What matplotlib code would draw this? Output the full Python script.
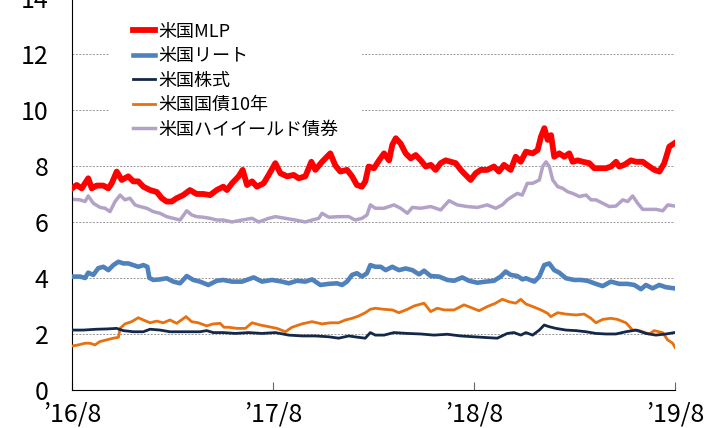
import matplotlib
matplotlib.use('Agg')
from matplotlib import pyplot as plt

plt.rcParams['font.family'] = ['Noto Sans CJK JP', 'DejaVu Sans']

# x = months since 2016/8
mlp_x = [0.00, 0.28, 0.58, 0.97, 1.18, 1.47, 1.87, 2.17, 2.37, 2.67, 2.97, 3.36, 3.66, 3.96,
         4.26, 4.66, 5.06, 5.36, 5.65, 5.95, 6.25, 6.64, 7.04, 7.44, 7.84, 8.24, 8.64, 9.03,
         9.25, 9.55, 9.95, 10.19, 10.45, 10.75, 11.04, 11.44, 11.74, 12.14, 12.44, 12.84,
         13.24, 13.53, 13.93, 14.29, 14.53, 14.93, 15.22, 15.42, 15.72, 16.02, 16.42, 16.72,
         17.01, 17.31, 17.51, 17.71, 18.03, 18.33, 18.63, 18.93, 19.12, 19.33, 19.62, 19.92,
         20.22, 20.52, 20.82, 21.12, 21.42, 21.71, 22.01, 22.31, 22.61, 22.91, 23.21, 23.50,
         23.80, 24.10, 24.40, 24.79, 25.19, 25.49, 25.79, 26.19, 26.49, 26.79, 27.10, 27.50,
         27.80, 28.00, 28.20, 28.40, 28.60, 28.79, 29.09, 29.39, 29.69, 29.89, 30.19, 30.49,
         30.88, 31.18, 31.48, 31.88, 32.18, 32.48, 32.67, 32.97, 33.37, 33.67, 34.07, 34.47,
         34.77, 35.07, 35.36, 35.66, 35.96]
mlp_y = [7.20, 7.32, 7.20, 7.56, 7.20, 7.30, 7.30, 7.20, 7.38, 7.80, 7.50, 7.63, 7.45, 7.45,
         7.26, 7.14, 7.07, 6.85, 6.73, 6.73, 6.85, 6.96, 7.14, 7.00, 7.00, 6.96, 7.14, 7.26,
         7.14, 7.38, 7.63, 7.86, 7.32, 7.45, 7.26, 7.38, 7.68, 8.10, 7.74, 7.63,
         7.68, 7.56, 7.63, 8.15, 7.86, 8.15, 8.33, 8.45, 8.02, 7.80, 7.86, 7.63,
         7.32, 7.26, 7.45, 7.98, 7.92, 8.20, 8.45, 8.20, 8.75, 8.99, 8.80, 8.45,
         8.27, 8.39, 8.20, 7.98, 8.04, 7.86, 8.10, 8.20, 8.15, 8.10, 7.86, 7.68,
         7.50, 7.74, 7.86, 7.86, 7.98, 7.80, 8.04, 7.86, 8.33, 8.15, 8.51, 8.45,
         8.57, 9.05, 9.35, 8.93, 9.10, 8.33, 8.45, 8.33, 8.45, 8.15, 8.20, 8.15,
         8.10, 7.92, 7.92, 7.92, 7.98, 8.15, 7.98, 8.04, 8.20, 8.15, 8.15, 7.98,
         7.86, 7.80, 8.10, 8.69, 8.81]

reit_x = [0.00, 0.48, 0.78, 0.97, 1.27, 1.57, 1.87, 2.17, 2.47, 2.77, 3.06, 3.36, 3.66, 3.96,
          4.26, 4.50, 4.62, 4.86, 5.25, 5.65, 6.05, 6.45, 6.85, 7.24, 7.64, 8.14, 8.64, 9.03,
          9.55, 10.15, 10.85, 11.34, 11.94, 12.54, 12.94, 13.43, 13.93, 14.33, 14.83, 15.32,
          15.82, 16.12, 16.42, 16.72, 17.01, 17.31, 17.61, 17.81, 18.11, 18.43, 18.73, 19.12,
          19.52, 19.92, 20.32, 20.72, 21.02, 21.41, 21.91, 22.41, 22.81, 23.30, 23.70, 24.20,
          24.70, 25.19, 25.59, 25.89, 26.19, 26.59, 26.89, 27.10, 27.60, 27.90, 28.19, 28.49,
          28.79, 29.09, 29.49, 29.99, 30.38, 30.78, 31.18, 31.68, 32.17, 32.67, 33.17, 33.57,
          33.97, 34.26, 34.66, 35.06, 35.46, 35.96]
reit_y = [4.05, 4.05, 4.00, 4.19, 4.11, 4.35, 4.40, 4.28, 4.46, 4.58, 4.52, 4.52, 4.46, 4.40,
          4.46, 4.40, 4.00, 3.93, 3.95, 3.99, 3.87, 3.81, 4.07, 3.93, 3.87, 3.75, 3.90, 3.93,
          3.87, 3.87, 4.02, 3.87, 3.93, 3.87, 3.81, 3.90, 3.87, 3.95, 3.75, 3.79,
          3.81, 3.75, 3.87, 4.11, 4.17, 4.05, 4.17, 4.46, 4.40, 4.40, 4.28, 4.40,
          4.28, 4.34, 4.28, 4.13, 4.26, 4.07, 4.05, 3.93, 3.90, 4.02, 3.90, 3.83,
          3.87, 3.90, 4.05, 4.23, 4.11, 4.07, 3.95, 3.99, 3.87, 4.05, 4.46, 4.52,
          4.28, 4.19, 3.99, 3.93, 3.93, 3.90, 3.81, 3.71, 3.87, 3.79, 3.79, 3.75,
          3.60, 3.75, 3.63, 3.75, 3.67, 3.63]

stock_x = [0.00, 0.68, 1.47, 2.07, 2.67, 3.06, 3.66, 4.26, 4.66, 5.25, 5.85, 6.45, 7.04, 7.64,
           8.04, 8.44, 9.03, 9.75, 10.55, 11.34, 12.14, 12.94, 13.73, 14.53, 15.32, 15.92,
           16.52, 17.11, 17.51, 17.81, 18.11, 18.63, 19.22, 20.02, 20.82, 21.61, 22.41, 23.20,
           24.00, 24.80, 25.39, 25.99, 26.39, 26.79, 27.10, 27.50, 27.90, 28.19, 28.49, 28.89,
           29.49, 30.09, 30.68, 31.28, 31.88, 32.47, 33.07, 33.67, 34.26, 34.86, 35.46, 35.96]
stock_y = [2.14, 2.14, 2.17, 2.18, 2.20, 2.12, 2.08, 2.08, 2.17, 2.14, 2.08, 2.08, 2.08, 2.08,
           2.12, 2.05, 2.05, 2.02, 2.05, 2.02, 2.05, 1.96, 1.93, 1.93, 1.90, 1.85,
           1.93, 1.88, 1.85, 2.05, 1.96, 1.96, 2.05, 2.02, 2.00, 1.96, 1.99, 1.93,
           1.90, 1.87, 1.85, 2.02, 2.05, 1.96, 2.05, 1.96, 2.14, 2.32, 2.26, 2.20,
           2.14, 2.12, 2.08, 2.02, 2.00, 2.00, 2.08, 2.14, 2.02, 1.96, 2.00, 2.05]

bond_x = [0.00, 0.38, 0.78, 1.07, 1.37, 1.67, 2.07, 2.47, 2.77, 2.87, 3.16, 3.56, 3.96, 4.26,
          4.66, 5.05, 5.45, 5.85, 6.25, 6.81, 7.14, 7.54, 8.04, 8.44, 8.84, 9.07, 9.35, 9.85,
          10.35, 10.75, 11.24, 11.74, 12.24, 12.74, 13.13, 13.73, 14.33, 14.93, 15.42, 15.92,
          16.32, 16.72, 17.11, 17.51, 17.81, 18.11, 18.63, 19.12, 19.52, 20.02, 20.42, 21.02,
          21.41, 21.81, 22.21, 22.81, 23.40, 23.80, 24.30, 24.80, 25.29, 25.69, 26.09, 26.49,
          26.79, 27.10, 27.50, 27.99, 28.39, 28.59, 28.99, 29.49, 30.09, 30.58, 30.98, 31.28,
          31.68, 32.17, 32.57, 33.07, 33.47, 33.87, 34.46, 34.76, 35.26, 35.56, 35.86, 36.00]
bond_y = [1.57, 1.61, 1.67, 1.67, 1.61, 1.73, 1.79, 1.85, 1.88, 2.20, 2.36, 2.44, 2.58, 2.50,
          2.40, 2.46, 2.40, 2.50, 2.38, 2.62, 2.44, 2.40, 2.29, 2.36, 2.38, 2.24, 2.24, 2.20,
          2.20, 2.40, 2.32, 2.26, 2.20, 2.08, 2.24, 2.36, 2.44, 2.36, 2.40, 2.40,
          2.50, 2.56, 2.64, 2.76, 2.88, 2.92, 2.88, 2.86, 2.76, 2.88, 3.00, 3.10,
          2.80, 2.92, 2.86, 2.86, 3.04, 2.95, 2.83, 2.98, 3.10, 3.24, 3.15, 3.10,
          3.24, 3.07, 2.98, 2.86, 2.74, 2.62, 2.76, 2.71, 2.68, 2.71, 2.56, 2.40,
          2.52, 2.56, 2.52, 2.40, 2.14, 2.12, 2.00, 2.12, 2.05, 1.79, 1.67, 1.52]

hy_x = [0.00, 0.48, 0.78, 0.97, 1.27, 1.67, 1.97, 2.27, 2.57, 2.87, 3.16, 3.46, 3.76, 4.06,
        4.46, 4.85, 5.25, 5.65, 6.05, 6.45, 6.85, 7.15, 7.44, 7.84, 8.24, 8.64, 9.03, 9.55,
        10.15, 10.75, 11.15, 11.74, 12.14, 12.73, 13.33, 13.93, 14.33, 14.73, 14.93, 15.33,
        15.92, 16.52, 16.91, 17.31, 17.61, 17.81, 18.11, 18.63, 19.22, 19.62, 20.02, 20.32,
        20.82, 21.42, 22.01, 22.51, 23.00, 23.60, 24.20, 24.79, 25.30, 25.69, 25.99, 26.29,
        26.59, 26.88, 27.18, 27.50, 27.90, 28.10, 28.30, 28.50, 28.70, 29.00, 29.30, 29.59,
        29.89, 30.29, 30.69, 30.99, 31.28, 31.68, 32.08, 32.48, 32.88, 33.18, 33.47, 33.77,
        34.07, 34.47, 34.87, 35.27, 35.57, 35.96]
hy_y = [6.81, 6.79, 6.73, 6.93, 6.67, 6.52, 6.49, 6.37, 6.73, 6.96, 6.79, 6.85, 6.61, 6.55,
        6.49, 6.37, 6.31, 6.19, 6.13, 6.07, 6.40, 6.25, 6.19, 6.17, 6.13, 6.07, 6.07, 6.00,
        6.07, 6.13, 6.00, 6.13, 6.19, 6.13, 6.07, 6.00, 6.07, 6.13, 6.31, 6.17,
        6.19, 6.19, 6.07, 6.13, 6.25, 6.61, 6.49, 6.49, 6.61, 6.49, 6.31, 6.52,
        6.49, 6.55, 6.43, 6.76, 6.61, 6.55, 6.52, 6.61, 6.49, 6.61, 6.79, 6.91,
        7.02, 6.96, 7.38, 7.38, 7.50, 7.98, 8.15, 7.98, 7.50, 7.26, 7.20, 7.08,
        7.02, 6.91, 6.96, 6.79, 6.79, 6.67, 6.55, 6.57, 6.79, 6.73, 6.93, 6.67,
        6.45, 6.45, 6.45, 6.40, 6.61, 6.57]

tick_pos = [0, 12, 24, 36]
tick_labels = ['’16/8', '’17/8', '’18/8', '’19/8']

fig = plt.figure(figsize=(7.2, 4.28), dpi=100)
ax = fig.add_axes([0.1, 0.0888, 0.8375, 0.916])

ax.plot(mlp_x, mlp_y, color='#FF0000', lw=4.2, label='米国MLP', zorder=6)
ax.plot(reit_x, reit_y, color='#4F81BD', lw=3.3, label='米国リート', zorder=5)
ax.plot(stock_x, stock_y, color='#14284A', lw=2.0, label='米国株式', zorder=4)
ax.plot(bond_x, bond_y, color='#E8700F', lw=2.0, label='米国国債10年', zorder=3)
ax.plot(hy_x, hy_y, color='#B3A2C7', lw=2.5, label='米国ハイイールド債券', zorder=2)

ax.set_xlim(0, 36)
ax.set_ylim(0, 14)
ax.set_yticks(range(0, 15, 2))
ax.set_xticks(tick_pos)
ax.set_xticklabels(tick_labels)
ax.yaxis.grid(True, ls=(0, (2, 1.5)), color='#999999', lw=0.7)
ax.set_axisbelow(True)
for s in ['top', 'right']:
    ax.spines[s].set_visible(False)
ax.spines['left'].set_color('black')
ax.spines['bottom'].set_color('black')
ax.tick_params(axis='y', length=0, pad=17, labelsize=18)
ax.tick_params(axis='x', direction='in', length=6, width=0.8, color='#666666',
               pad=8, labelsize=18)

leg = ax.legend(loc='upper left', bbox_to_anchor=(0.062, 0.997), fontsize=13,
                frameon=True, fancybox=False, edgecolor='none', facecolor='white',
                framealpha=1, handlelength=1.25, handletextpad=0.15,
                labelspacing=0.36, borderpad=1.3, borderaxespad=0)

fig.savefig('out.png', dpi=100)
